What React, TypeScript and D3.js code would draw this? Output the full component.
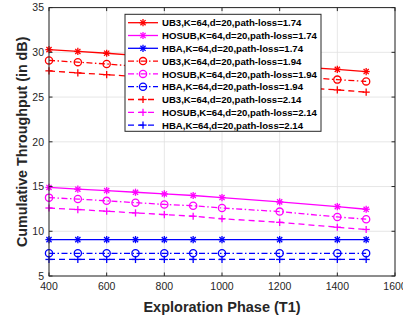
import * as d3 from "d3";

const xVals = [400, 500, 600, 700, 800, 900, 1000, 1200, 1400, 1500];
const ub3_174 = [30.3, 30.1, 29.9, 29.65, 29.4, 29.2, 28.95, 28.5, 28.1, 27.85];
const hosub_174 = [14.9, 14.7, 14.55, 14.36, 14.17, 14.0, 13.77, 13.28, 12.76, 12.46];
const hba_174 = [9.07, 9.07, 9.07, 9.07, 9.07, 9.07, 9.07, 9.07, 9.07, 9.07];
const ub3_194 = [29.1, 28.9, 28.7, 28.45, 28.2, 28.0, 27.8, 27.4, 26.95, 26.75];
const hosub_194 = [13.76, 13.6, 13.4, 13.2, 13.0, 12.85, 12.6, 12.2, 11.6, 11.35];
const hba_194 = [7.54, 7.54, 7.54, 7.54, 7.54, 7.54, 7.54, 7.54, 7.54, 7.54];
const ub3_214 = [27.93, 27.7, 27.5, 27.3, 27.1, 26.9, 26.7, 26.2, 25.8, 25.55];
const hosub_214 = [12.6, 12.43, 12.24, 12.05, 11.87, 11.68, 11.4, 11.0, 10.45, 10.2];
const hba_214 = [6.85, 6.85, 6.85, 6.85, 6.85, 6.85, 6.85, 6.85, 6.85, 6.85];

const xTicks = [400, 600, 800, 1000, 1200, 1400, 1600];
const yTicks = [5, 10, 15, 20, 25, 30, 35];

type Marker = "star" | "circle" | "plus";
interface Series { name: string; values: number[]; color: string; dash: string | null; marker: Marker }

const series: Series[] = [
  { name: "UB3,K=64,d=20,path-loss=1.74", values: ub3_174, color: "#ff0000", dash: null, marker: "star" },
  { name: "HOSUB,K=64,d=20,path-loss=1.74", values: hosub_174, color: "#ff00ff", dash: null, marker: "star" },
  { name: "HBA,K=64,d=20,path-loss=1.74", values: hba_174, color: "#0000ff", dash: null, marker: "star" },
  { name: "UB3,K=64,d=20,path-loss=1.94", values: ub3_194, color: "#ff0000", dash: "6,2.5,1.5,2.5", marker: "circle" },
  { name: "HOSUB,K=64,d=20,path-loss=1.94", values: hosub_194, color: "#ff00ff", dash: "6,2.5,1.5,2.5", marker: "circle" },
  { name: "HBA,K=64,d=20,path-loss=1.94", values: hba_194, color: "#0000ff", dash: "6,2.5,1.5,2.5", marker: "circle" },
  { name: "UB3,K=64,d=20,path-loss=2.14", values: ub3_214, color: "#ff0000", dash: "6,4", marker: "plus" },
  { name: "HOSUB,K=64,d=20,path-loss=2.14", values: hosub_214, color: "#ff00ff", dash: "6,4", marker: "plus" },
  { name: "HBA,K=64,d=20,path-loss=2.14", values: hba_214, color: "#0000ff", dash: "6,4", marker: "plus" },
];

const W = 403;
const H = 326;
const m = { left: 49, right: 395, top: 7.6, bottom: 276 };
const font = "'Liberation Sans', Arial, Helvetica, sans-serif";

function MarkerGlyph({ kind, x, y, color }: { kind: Marker; x: number; y: number; color: string }) {
  const r = 3.6;
  if (kind === "circle") {
    return <circle cx={x} cy={y} r={r} fill="none" stroke={color} strokeWidth={1.3} />;
  }
  const d = r * 0.72;
  return (
    <g stroke={color} strokeWidth={1.3} fill="none">
      <line x1={x - r} y1={y} x2={x + r} y2={y} />
      <line x1={x} y1={y - r} x2={x} y2={y + r} />
      {kind === "star" && (
        <>
          <line x1={x - d} y1={y - d} x2={x + d} y2={y + d} />
          <line x1={x - d} y1={y + d} x2={x + d} y2={y - d} />
        </>
      )}
    </g>
  );
}

export default function App() {
  const x = d3.scaleLinear().domain([400, 1600]).range([m.left, m.right]);
  const y = d3.scaleLinear().domain([5, 35]).range([m.bottom, m.top]);
  const line = d3.line<number>().x((_, i) => x(xVals[i])).y(d => y(d));

  const legX = 125, legY = 14.3, legW = 196, legH = 117;
  const rowH = 12.8;

  return (
    <svg width={W} height={H} style={{ position: "absolute", left: 0, top: 0, background: "#fff" }} fontFamily={font}>
      <rect x={m.left} y={m.top} width={m.right - m.left} height={m.bottom - m.top} fill="#fff" />
      {/* grid */}
      {xTicks.map(t => (
        <line key={"gx" + t} x1={x(t)} x2={x(t)} y1={m.top} y2={m.bottom} stroke="#dfdfdf" strokeWidth={0.8} />
      ))}
      {yTicks.map(t => (
        <line key={"gy" + t} x1={m.left} x2={m.right} y1={y(t)} y2={y(t)} stroke="#dfdfdf" strokeWidth={0.8} />
      ))}
      {/* series */}
      {series.map(s => (
        <g key={s.name}>
          <path d={line(s.values) ?? ""} fill="none" stroke={s.color} strokeWidth={1.3} strokeDasharray={s.dash ?? undefined} />
          {s.values.map((v, i) => (
            <MarkerGlyph key={i} kind={s.marker} x={x(xVals[i])} y={y(v)} color={s.color} />
          ))}
        </g>
      ))}
      {/* box */}
      <rect x={m.left} y={m.top} width={m.right - m.left} height={m.bottom - m.top} fill="none" stroke="#262626" strokeWidth={1} />
      {xTicks.map(t => (
        <g key={"tx" + t}>
          <line x1={x(t)} x2={x(t)} y1={m.bottom} y2={m.bottom - 3.5} stroke="#262626" />
          <line x1={x(t)} x2={x(t)} y1={m.top} y2={m.top + 3.5} stroke="#262626" />
          <text x={x(t)} y={m.bottom + 14} textAnchor="middle" fontSize={10.5} fill="#262626">{t}</text>
        </g>
      ))}
      {yTicks.map(t => (
        <g key={"ty" + t}>
          <line x1={m.left} x2={m.left + 3.5} y1={y(t)} y2={y(t)} stroke="#262626" />
          <line x1={m.right} x2={m.right - 3.5} y1={y(t)} y2={y(t)} stroke="#262626" />
          <text x={m.left - 5} y={y(t) + 3.7} textAnchor="end" fontSize={10.5} fill="#262626">{t}</text>
        </g>
      ))}
      <text x={(m.left + m.right) / 2} y={312} textAnchor="middle" fontSize={14.5} fontWeight="bold" fill="#262626">
        Exploration Phase (T1)
      </text>
      <text transform={`translate(26.5,${(m.top + m.bottom) / 2}) rotate(-90)`} textAnchor="middle" fontSize={14.3} fontWeight="bold" fill="#262626">
        Cumulative Throughput (in dB)
      </text>
      {/* legend */}
      <rect x={legX} y={legY} width={legW} height={legH} fill="#fff" stroke="#262626" strokeWidth={1} />
      {series.map((s, i) => {
        const cy = legY + 8.4 + i * rowH;
        return (
          <g key={"lg" + s.name}>
            <line x1={legX + 3} x2={legX + 33} y1={cy} y2={cy} stroke={s.color} strokeWidth={1.3} strokeDasharray={s.dash ?? undefined} />
            <MarkerGlyph kind={s.marker} x={legX + 18} y={cy} color={s.color} />
            <text x={legX + 37} y={cy + 3.6} fontSize={9.6} fontWeight="bold" fill="#000">{s.name}</text>
          </g>
        );
      })}
    </svg>
  );
}
